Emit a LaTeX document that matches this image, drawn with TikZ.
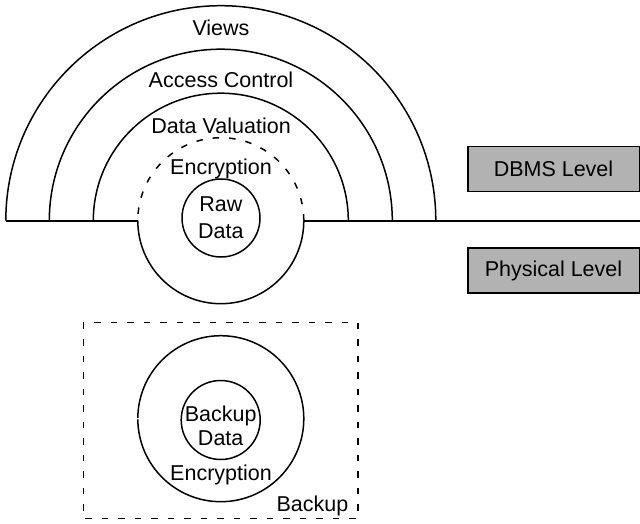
\documentclass[tikz,border=0pt]{standalone}
\usepackage{fontspec}
\setmainfont{Liberation Sans}
\begin{document}
\begin{tikzpicture}[x=1pt,y=1pt,
  ring/.style={line width=1.5pt},
  dashring/.style={line width=1.5pt, dash pattern=on 6.5pt off 10pt},
  baseline rule/.style={line width=1.9pt},
  txt/.style={font=\fontsize{21.5}{26}\selectfont, inner sep=0pt, anchor=base},
  levelbox/.style={draw, line width=1.5pt, fill=black!30, minimum width=171.5pt,
    minimum height=45pt, inner sep=0pt, font=\fontsize{21.5}{26}\selectfont},
  core/.style={circle, draw, line width=1.5pt, inner sep=0pt}
]
\useasboundingbox (0,0) rectangle (640,-524);

% centres of the two ring systems
\coordinate (dbc) at (220.8,-220.7);
\coordinate (bkc) at (220.8,-418.7);

% DBMS layers as half rings
\draw[ring] (5.8,-220.7) arc[start angle=180, end angle=0, radius=215pt];
\draw[ring] (49.3,-220.7) arc[start angle=180, end angle=0, radius=171.5pt];
\draw[ring] (93.3,-220.7) arc[start angle=180, end angle=0, radius=127.5pt];

% encryption shell: dashed above the level line, solid below
\draw[ring] (137.8,-220.7) arc[start angle=180, end angle=360, radius=83pt];
\draw[dashring] (303.8,-220.7) arc[start angle=0, end angle=180, radius=83pt];

% level separator
\coordinate (lineL) at (5.8,-220.7);
\coordinate (encL) at (137.8,-220.7);
\coordinate (encR) at (303.8,-220.7);
\coordinate (lineR) at (640,-220.7);
\draw[baseline rule] (lineL) -- (encL);
\draw[baseline rule] (encR) -- (lineR);

% raw data core
\node[core, minimum size=78pt] (raw) at (221,-218) {};

% layer labels
\node[txt] (views) at (221,-36) {Views};
\node[txt] (access) at (221,-87.3) {Access Control};
\node[txt] (valuation) at (221,-133.3) {Data Valuation};
\node[txt] (enc) at (221,-175) {Encryption};
\node[txt] (rawA) at (220.8,-211.7) {Raw};
\node[txt] (rawB) at (220.8,-238.3) {Data};

% level boxes
\node[levelbox] (dbms) at (553.5,-169.2) {DBMS Level};
\node[levelbox] (phys) at (553.5,-270.5) {Physical Level};

% backup area
\draw[dashring] (83.3,-322.5) rectangle (357.8,-518.7);
\draw[ring] ([shift={(180.4:83pt)}]bkc) arc[start angle=180.4, end angle=539.6, radius=83pt];
\node[core, minimum size=79pt] (bkdata) at (220.7,-420) {};
\node[txt] (bkA) at (220.7,-421.7) {Backup};
\node[txt] (bkB) at (220.7,-445) {Data};
\node[txt] (bkenc) at (221,-480) {Encryption};
\node[txt] (bklabel) at (312.5,-511.7) {Backup};
\end{tikzpicture}
\end{document}
